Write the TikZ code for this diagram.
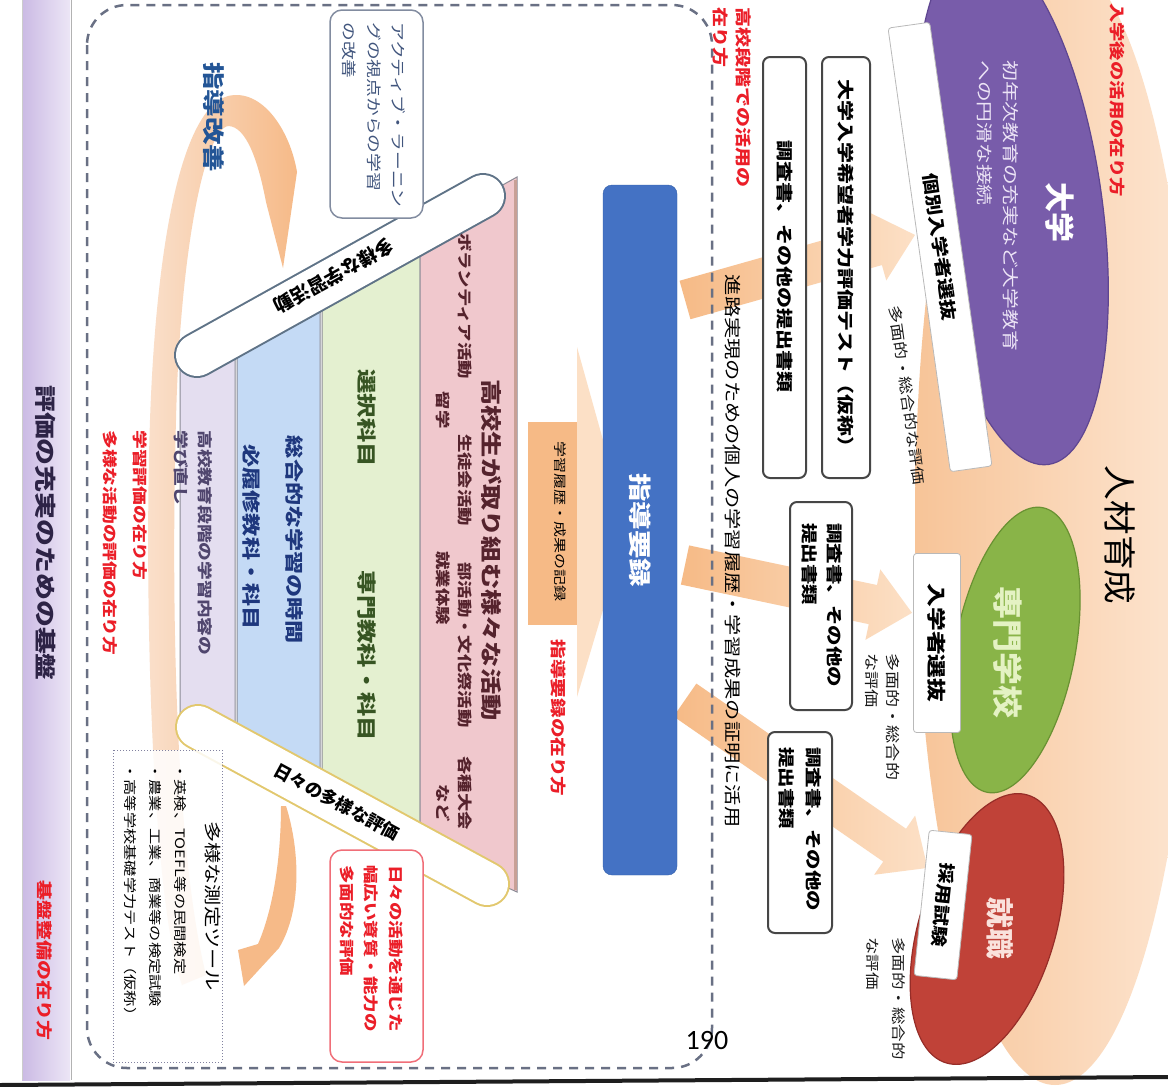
\documentclass[tikz,border=0pt]{standalone}
\usepackage{fontspec}
\usepackage{graphicx}
\newfontfamily\jpf{Noto Sans CJK JP}
\newfontfamily\calfont{Carlito}
\newcommand\fsz[2]{\fontsize{#1}{#2}\selectfont}
\definecolor{peachA}{RGB}{247,196,152}
\definecolor{peachB}{RGB}{253,230,210}
\definecolor{purp}{RGB}{120,92,170}
\definecolor{purpD}{RGB}{95,70,145}
\definecolor{grn}{RGB}{137,180,72}
\definecolor{grnD}{RGB}{105,145,50}
\definecolor{rd}{RGB}{192,66,56}
\definecolor{rdD}{RGB}{150,45,40}
\definecolor{arrA}{RGB}{246,186,134}
\definecolor{arrB}{RGB}{252,224,198}
\definecolor{cycL}{RGB}{250,224,204}
\definecolor{cycR}{RGB}{246,186,136}
\definecolor{bandA}{RGB}{203,186,228}
\definecolor{bandB}{RGB}{236,230,246}
\definecolor{dashc}{RGB}{105,112,132}
\definecolor{lav}{RGB}{228,222,240}
\definecolor{lblue}{RGB}{196,218,245}
\definecolor{lgreen}{RGB}{228,240,208}
\definecolor{lpink}{RGB}{240,200,205}
\definecolor{sdr}{RGB}{140,140,150}
\definecolor{blu}{RGB}{68,114,196}
\definecolor{bluD}{RGB}{52,96,170}
\definecolor{redT}{RGB}{235,30,40}
\definecolor{navy}{RGB}{35,85,150}
\definecolor{boxblue}{RGB}{65,85,125}
\definecolor{barG}{RGB}{95,115,135}
\definecolor{barY}{RGB}{226,200,110}
\definecolor{cA}{RGB}{45,35,70}
\definecolor{pinkT}{RGB}{85,35,45}
\definecolor{grnT}{RGB}{55,85,35}
\definecolor{bluT}{RGB}{30,55,125}
\definecolor{lavT}{RGB}{80,70,110}
\definecolor{redB}{RGB}{240,110,120}
\definecolor{cardB}{RGB}{70,70,70}
\begin{document}
\begin{tikzpicture}[x=1pt,y=-1pt,
  vt/.style={rotate=-90, xscale=1.25, inner sep=0pt},
  lbl/.style={draw=gray!55, fill=white, rounded corners=3pt, inner sep=0pt, line width=0.8pt},
  card/.style={draw=cardB, fill=white, line width=2pt, rounded corners=7pt},
  stripe/.style={draw=sdr, line width=1pt}
]
\useasboundingbox (0,0) rectangle (1168,1087);
\clip (0,0) rectangle (1168,1087);
\fill[white] (0,0) rectangle (1168,1087);

% ---------- right part: ellipses ----------
\shade[left color=peachA, right color=peachB] (1055,520) ellipse [x radius=140pt, y radius=565pt];
\fill[purp, draw=purpD, line width=1.2pt, rotate around={8:(1012,205)}] (1012,205) ellipse [x radius=90pt, y radius=262pt];
\fill[grn, draw=grnD, line width=1.2pt, rotate around={-11:(1015,650)}] (1015,650) ellipse [x radius=60pt, y radius=145pt];
\fill[rd, draw=rdD, line width=1.2pt, rotate around={-17:(987,929)}] (987,929) ellipse [x radius=68pt, y radius=140pt];

% ---------- peach arrows from the record ----------
\begin{scope}[shift={(685,300)}, rotate=15.8]
\shade[left color=arrA, right color=arrB] (0,-20) -- (199,-20) -- (199,-36) -- (239,0) -- (199,36) -- (199,20) -- (0,20) -- cycle;
\end{scope}
\begin{scope}[shift={(685,565)}, rotate=-11.9]
\shade[left color=arrA, right color=arrB] (0,-20) -- (192,-20) -- (192,-36) -- (232,0) -- (192,36) -- (192,20) -- (0,20) -- cycle;
\end{scope}
\begin{scope}[shift={(685,700)}, rotate=-34.7]
\shade[left color=arrA, right color=arrB] (0,-20) -- (255,-20) -- (255,-36) -- (295,0) -- (255,36) -- (255,20) -- (0,20) -- cycle;
\end{scope}

% ---------- left band ----------
\shade[left color=bandA, right color=bandB] (22,0) rectangle (70,1080);
\draw[gray!60, line width=1pt] (71,0) -- (71,1080);
\draw[gray!40, line width=0.8pt] (22,0) -- (22,1080);

% ---------- cycle arrows ----------
\shade[left color=cycL, right color=cycR] (182,985) .. controls (152,900) and (144,600) .. (150,420) .. controls (156,250) and (180,110) .. (228,96) .. controls (262,88) and (290,130) .. (297,172) -- (283,268) -- (266,202) .. controls (258,160) and (246,126) .. (228,126) .. controls (205,130) and (180,250) .. (176,420) .. controls (171,600) and (175,850) .. (206,975) -- cycle;
\fill[cycR] (286,806) .. controls (300,850) and (302,910) .. (279,948) -- (244,986) -- (238,950) -- (258,944) .. controls (275,905) and (281,850) .. (281,806) -- cycle;

% ---------- stripes ----------
\fill[lav, stripe] (180,364) -- (235,334) -- (235,747) -- (180,717) -- cycle;
\fill[lblue, stripe] (237,333) -- (320,287) -- (320,793) -- (237,748) -- cycle;
\fill[lgreen, stripe] (322,286) -- (420,231) -- (420,848) -- (322,794) -- cycle;
\fill[lpink, stripe] (420,231) -- (517,177) -- (517,892) -- (420,848) -- cycle;
\draw[line width=3pt, color={rgb,255:red,200;green,160;blue,150}] (515,180) -- (515,890);

% ---------- bars ----------
\draw[barG, line width=46pt, line cap=round] (197,355) -- (483,196);
\draw[white, line width=42pt, line cap=round] (197,355) -- (483,196);
\draw[barY, line width=46pt, line cap=round] (198,727) -- (487,884);
\draw[white, line width=42pt, line cap=round] (198,727) -- (487,884);

% ---------- boxes in left region ----------
\draw[draw={rgb,255:red,130;green,140;blue,160}, fill=white, line width=1.5pt, rounded corners=12pt] (330,10) rectangle (423,218);
\draw[draw=redB, fill=white, line width=1.5pt, rounded corners=12pt] (330,850) rectangle (423,1062);
\draw[draw={rgb,255:red,130;green,130;blue,160}, fill=white, fill opacity=0.85, dotted, line width=1pt] (113,750) rectangle (222,1062);

% ---------- record ----------
\fill[arrB] (577,347) -- (603,440) -- (603,610) -- (577,697) -- cycle;
\fill[arrA] (528,422) rectangle (577,625);
\fill[blu, draw=bluD, rounded corners=9pt] (603,185) rectangle (677,875);

% ---------- dashed frame ----------
\draw[dashc, line width=2.5pt, dash pattern=on 9pt off 7pt, rounded corners=40pt] (87,5) rectangle (712,1068);

% ---------- cards ----------
\draw[card] (822,57) rectangle (870,478);
\draw[card] (763,57) rectangle (806,478);
\draw[card] (790,502) rectangle (852,710);
\draw[card] (768,732) rectangle (832,933);

% ---------- label boxes ----------
\node[lbl, rotate=-82, minimum width=448pt, minimum height=42pt, font={\jpf\bfseries\fsz{17}{20}}] (boxE) at (940,247) {\scalebox{1.25}[1]{個別入学者選抜}};
\node[lbl, rotate=-90, minimum width=179pt, minimum height=47pt, font={\jpf\bfseries\fsz{19}{22}}] (boxF) at (937,643) {\scalebox{1.25}[1]{入学者選抜}};
\node[lbl, rotate=-96, minimum width=146pt, minimum height=43pt, font={\jpf\bfseries\fsz{16.8}{20}}] (boxG) at (943,905) {\scalebox{1.25}[1]{採用試験}};

% ---------- bottom line ----------
\draw[line width=4pt, color={rgb,255:red,30;green,30;blue,30}] (0,1085) -- (1168,1077);

% ---------- texts ----------
\node[vt, font={\jpf\bfseries\fsz{21.5}{26}}, text=cA] (t1) at (46,533) {評価の充実のための基盤};
\node[vt, font={\jpf\bfseries\fsz{16}{19}}, text=redT] (t2) at (45,960) {基盤整備の在り方};
\node[vt, font={\jpf\bfseries\fsz{22}{26}}, text=navy] (t3) at (214,117) {指導改善};
\node[vt, anchor=north west, align=left, font={\jpf\fsz{15}{24.5}}, text=boxblue] (t4) at (406,22) {アクティブ・ラーニン\\グの視点からの学習\\の改善};

\node[vt, font={\jpf\bfseries\fsz{21}{25}}, text=pinkT] (t5) at (492,550) {高校生が取り組む様々な活動};
\node[vt, font={\jpf\bfseries\fsz{14.7}{18}}, text=pinkT] (t6a) at (465,306) {ボランティア活動};
\node[vt, font={\jpf\bfseries\fsz{14.7}{18}}, text=pinkT] (t6b) at (465,480) {生徒会活動};
\node[vt, font={\jpf\bfseries\fsz{14.7}{18}}, text=pinkT] (t6c) at (465,645) {部活動・文化祭活動};
\node[vt, font={\jpf\bfseries\fsz{14.7}{18}}, text=pinkT] (t6d) at (465,793) {各種大会};
\node[vt, font={\jpf\bfseries\fsz{14.7}{18}}, text=pinkT] (t6e) at (443,410) {留学};
\node[vt, font={\jpf\bfseries\fsz{14.7}{18}}, text=pinkT] (t6f) at (443,588) {就業体験};
\node[vt, font={\jpf\bfseries\fsz{14.7}{18}}, text=pinkT] (t6g) at (443,803) {など};

\node[vt, font={\jpf\bfseries\fsz{19.5}{23}}, text=grnT] (t7a) at (367,418) {選択科目};
\node[vt, font={\jpf\bfseries\fsz{19.5}{23}}, text=grnT] (t7b) at (367,656) {専門教科・科目};
\node[vt, font={\jpf\bfseries\fsz{18.5}{22}}, text=bluT] (t8a) at (295,540) {総合的な学習の時間};
\node[vt, font={\jpf\bfseries\fsz{18.5}{22}}, text=bluT] (t8b) at (252,537) {必履修教科・科目};
\node[vt, anchor=west, font={\jpf\bfseries\fsz{15}{18}}, text=lavT] (t9a) at (205,430) {高校教育段階の学習内容の};
\node[vt, anchor=west, font={\jpf\bfseries\fsz{15}{18}}, text=lavT] (t9b) at (181,430) {学び直し};
\node[vt, anchor=west, font={\jpf\bfseries\fsz{15}{18}}, text=redT] (t10a) at (140,430) {学習評価の在り方};
\node[vt, anchor=west, font={\jpf\bfseries\fsz{15}{18}}, text=redT] (t10b) at (110,430) {多様な活動の評価の在り方};

\node[vt, font={\jpf\fsz{17}{20}}] (t11a) at (213,906) {多様な測定ツール};
\node[vt, anchor=north west, align=left, font={\jpf\fsz{13}{25}}] (t11b) at (187,763) {・英検、TOEFL等の民間検定\\・農業、工業、商業等の検定試験\\・高等学校基礎学力テスト（仮称）};
\node[vt, anchor=north west, align=left, font={\jpf\bfseries\fsz{14.8}{24.5}}, text=redT] (t12) at (403,865) {日々の活動を通じた\\幅広い資質・能力の\\多面的な評価};

\node[vt, font={\jpf\fsz{12.8}{15}}] (t13) at (560,521) {学習履歴・成果の記録};
\node[vt, font={\jpf\bfseries\fsz{15.7}{18}}, text=redT] (t14) at (558,718) {指導要録の在り方};
\node[vt, font={\jpf\bfseries\fsz{22.8}{26}}, text=white] (t15) at (640,530) {指導要録};
\node[vt, font={\jpf\fsz{17}{20}}] (t16) at (733,551) {進路実現のための個人の学習履歴・学習成果の証明に活用};
\node[vt, anchor=north west, align=left, font={\jpf\bfseries\fsz{16}{23}}, text=redT] (t17) at (751,7) {高校段階での活用の\\在り方};

\node[vt, font={\jpf\bfseries\fsz{16.8}{20}}] (t18) at (846,268) {大学入学希望者学力評価テスト（仮称）};
\node[vt, font={\jpf\bfseries\fsz{16.8}{20}}] (t19) at (785,266) {調査書、その他の提出書類};
\node[vt, anchor=north west, align=left, font={\jpf\bfseries\fsz{16.4}{25}}] (t20) at (843,523) {調査書、その他の\\提出書類};
\node[vt, anchor=north west, align=left, font={\jpf\bfseries\fsz{16.4}{27}}] (t21) at (822,747) {調査書、その他の\\提出書類};

\node[rotate=-82, xscale=1.25, inner sep=0pt, font={\jpf\fsz{14.4}{17}}, text=gray!20!black] (t23) at (907,395) {多面的・総合的な評価};
\node[vt, anchor=north west, align=left, font={\jpf\fsz{14.5}{21}}, text=gray!20!black] (t25) at (900,653) {多面的・総合的\\な評価};
\node[vt, anchor=north west, align=left, font={\jpf\fsz{14}{26}}, text=gray!20!black] (t27) at (906,937) {多面的・総合的\\な評価};

\node[rotate=-90, inner sep=0pt, font={\jpf\bfseries\fsz{30}{34}}, text=white] (t28) at (1060,212) {大学};
\node[vt, anchor=north west, align=left, font={\jpf\fsz{16.6}{26}}, text={rgb,255:red,236;green,228;blue,246}] (t29) at (1019,60) {初年次教育の充実など大学教育\\への円滑な接続};
\node[rotate=-90, xscale=1.1, inner sep=0pt, font={\jpf\bfseries\fsz{30}{34}}, text={rgb,255:red,228;green,242;blue,195}] (t30) at (1008,652) {専門学校};
\node[rotate=-90, xscale=1.1, inner sep=0pt, font={\jpf\bfseries\fsz{28}{32}}, text={rgb,255:red,250;green,226;blue,220}] (t31) at (1000,928) {就職};
\node[rotate=-90, xscale=1.05, inner sep=0pt, font={\jpf\fsz{33}{36}}] (t32) at (1120,535) {人材育成};
\node[vt, font={\jpf\bfseries\fsz{15.5}{19}}, text=redT] (t33) at (1117,100) {入学後の活用の在り方};

\node[rotate=-151, inner sep=0pt, font={\jpf\bfseries\fsz{19}{22}}] (t35) at (334,276) {多様な学習活動};
\node[rotate=-28.5, inner sep=0pt, font={\jpf\bfseries\fsz{17.5}{20}}] (t36) at (337,802) {日々の多様な評価};

\node[inner sep=0pt, font={\calfont\fsz{28}{30}}] (t34) at (707,1040) {190};
\end{tikzpicture}
\end{document}
